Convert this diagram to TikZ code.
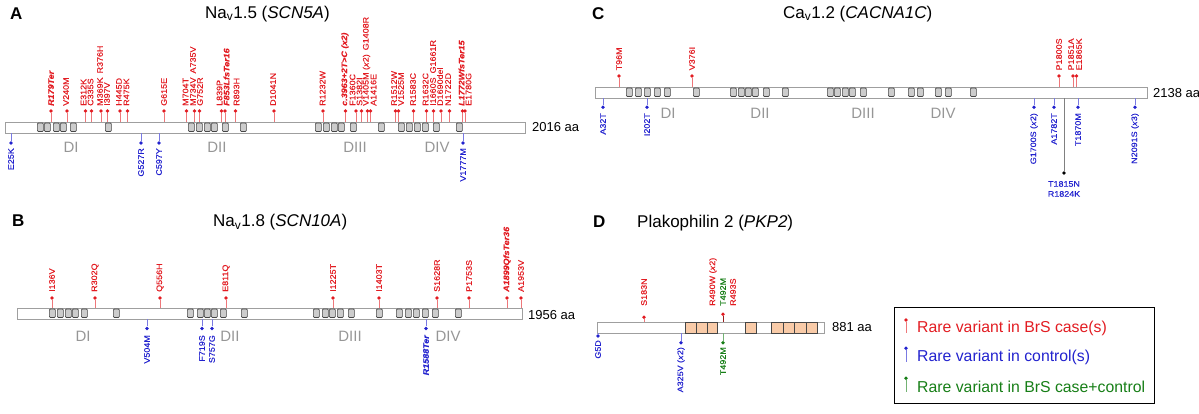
\documentclass[tikz,border=0pt]{standalone}
\usepackage{fontspec}
\setmainfont{Liberation Sans}
\newfontfamily\lblfam{Liberation Sans}[FakeStretch=1.12, FakeBold=0.3]
\usetikzlibrary{positioning}

\definecolor{varred}{RGB}{226,28,34}
\definecolor{varblue}{RGB}{34,34,206}
\definecolor{vargreen}{RGB}{22,126,22}
\definecolor{stemdark}{RGB}{150,30,30}
\definecolor{armorange}{RGB}{249,203,168}
\definecolor{domgray}{RGB}{150,150,150}

\newcommand{\lblfont}{\lblfam\fontsize{8}{10}\selectfont}
\newcommand{\fsvar}{\bfseries\itshape}

\tikzset{
  protbar/.style={draw=gray!75, fill=white, line width=0.6pt, inner sep=0pt,
    minimum height=10.5pt, anchor=north west},
  tmbox/.style={draw=gray!55!black, fill=gray!40, line width=0.7pt, rounded corners=1pt,
    inner sep=0pt, minimum width=6pt, minimum height=8.5pt, anchor=west},
  armbox/.style={draw=gray!55!black, fill=armorange, line width=0.6pt, inner sep=0pt,
    minimum height=10.5pt, anchor=north west},
  vdot/.style={circle, fill=#1, inner sep=0pt, minimum size=3.8pt},
  vstem/.style={draw=#1, line width=0.7pt},
  uplab/.style={rotate=90, anchor=west, inner sep=0pt, text=#1, font=\lblfont},
  downlab/.style={rotate=90, anchor=east, inner sep=0pt, text=#1, font=\lblfont},
  domlab/.style={text=domgray, font=\fontsize{15}{15}\selectfont, anchor=base, inner sep=0pt},
  lenlab/.style={font=\fontsize{13}{13}\selectfont, anchor=base west, inner sep=0pt},
  paneltitle/.style={font=\fontsize{17}{17}\selectfont, anchor=base west, inner sep=0pt},
  panelletter/.style={font=\fontsize{17}{17}\selectfont\bfseries, anchor=base west, inner sep=0pt},
  legtext/.style={font=\fontsize{15.8}{16}\selectfont, anchor=base west, inner sep=0pt, text=#1},
}

\begin{document}
\begin{tikzpicture}[x=1pt, y=-1pt]
    \useasboundingbox (0,0) rectangle (1199,413);

    % A: Nav1.5
    \node[panelletter] (letA) at (10,19) {A};
    \node[paneltitle] (titleA) at (205,18) {Na\textsubscript{v}1.5 (\textit{SCN5A})};
    \node[protbar, minimum width=520pt] (barA) at (5,122) {};
    \node[lenlab] (lenA) at (532,131.7) {2016 aa};
    \foreach \x in {37,44,53,60,70,105, 188,196,204,211,222,240, 315,323,331,338,350,378, 398,406,414,422,433,456}
        \node[tmbox] at (\x,127.25) {};
    \node[domlab] (dA1) at (71,152.5) {DI};
    \node[domlab] (dA2) at (217,152.5) {DII};
    \node[domlab] (dA3) at (355,152.5) {DIII};
    \node[domlab] (dA4) at (437,152.5) {DIV};
    % dot x / label x / label
    \foreach \d/\x/\vname [count=\i] in {51/51/{\fsvar R179Ter}, 67/66/V240M, 85.5/83.5/E312K, 91.5/90.5/C335S,
        101/100/{M369K\hspace{4pt}R376H}, 107.5/107/I397V, 120/119/H445D, 127.5/126.5/R475K, 164/164/G615E,
        186.5/185.5/M704T, 194.5/193/{M734V\hspace{4pt}A735V}, 199.5/200/G752R, 221.5/219.5/L839P,
        225/226.5/{\fsvar F853LfsTer16}, 235.5/236.5/R893H, 274/273/D1041N, 323/322.5/R1232W,
        345.5/345/{\fsvar c.3963+2T>C (\textit{x}2)}, 356/352.5/F1360C, 361.5/359.5/S1382I,
        367.5/366.5/{V1405M (\textit{x}2)\hspace{4pt}G1408R}, 370.5/373.5/A1416E, 395.5/394/R1512W,
        398.5/401/V1525M, 413.5/413/R1583C, 426.5/425.5/R1632C, 433.5/433/{I1660S\hspace{4pt}G1661R},
        441/440/D1690del, 449.5/448/N1722D, 462.5/461.5/{\fsvar L1772WfsTer15}, 465/468.5/E1780G}{
        \node[vdot=varred] (Ar\i) at (\d,111) {};
        \draw[vstem=varred!60] (Ar\i) -- (Ar\i |- barA.north);
        \node[uplab=varred] (ArL\i) at (\x,106) {\vname};
    }
    \foreach \x/\vname [count=\i] in {11/E25K, 141/G527R, 159/C597Y, 463/V1777M}{
        \node[vdot=varblue] (Ab\i) at (\x,143) {};
        \draw[vstem=varblue!60] (Ab\i) -- (Ab\i |- barA.south);
        \node[downlab=varblue] (AbL\i) at (\x,148) {\vname};
    }

    % B: Nav1.8
    \node[panelletter] (letB) at (12,226.5) {B};
    \node[paneltitle] (titleB) at (213,226.5) {Na\textsubscript{v}1.8 (\textit{SCN10A})};
    \node[protbar, minimum width=505pt] (barB) at (17,308) {};
    \node[lenlab] (lenB) at (528,319.3) {1956 aa};
    \foreach \x in {49,57,65,72,81,113, 187,197,204,211,220,241, 313,322,329,337,348,376, 396,405,413,422,432,455}
        \node[tmbox] at (\x,313.25) {};
    \node[domlab] (dB1) at (83,341.7) {DI};
    \node[domlab] (dB2) at (230,341.7) {DII};
    \node[domlab] (dB3) at (350,341.7) {DIII};
    \node[domlab] (dB4) at (448,341.7) {DIV};
    \foreach \x/\vname [count=\i] in {52/I136V, 95/R302Q, 160/Q556H, 226/E811Q, 333/I1225T,
        379/I1403T, 437/S1628R, 469/P1753S, 507/{\fsvar A1899QfsTer36}, 521/A1953V}{
        \node[vdot=varred] (Br\i) at (\x,298) {};
        \draw[vstem=varred!60] (Br\i) -- (Br\i |- barB.north);
        \node[uplab=varred] (BrL\i) at (\x,292) {\vname};
    }
    \foreach \x/\vname [count=\i] in {147/V504M, 202/F719S, 212/S757G, 426/{\fsvar R1588Ter}}{
        \node[vdot=varblue] (Bb\i) at (\x,328.5) {};
        \draw[vstem=varblue!60] (Bb\i) -- (Bb\i |- barB.south);
        \node[downlab=varblue] (BbL\i) at (\x,335) {\vname};
    }

    % C: Cav1.2
    \node[panelletter] (letC) at (592,19) {C};
    \node[paneltitle] (titleC) at (783,18) {Ca\textsubscript{v}1.2 (\textit{CACNA1C})};
    \node[protbar, minimum width=552pt] (barC) at (595,87) {};
    \node[lenlab] (lenC) at (1153,97.3) {2138 aa};
    \foreach \x in {626,635,644,654,664,693, 730,738,745,752,763,782, 827,834,842,849,860,888, 908,917,935,945,970}
        \node[tmbox] at (\x,92.25) {};
    \node[domlab] (dC1) at (668,118.3) {DI};
    \node[domlab] (dC2) at (760,118.3) {DII};
    \node[domlab] (dC3) at (863,118.3) {DIII};
    \node[domlab] (dC4) at (943,118.3) {DIV};
    \foreach \d/\x/\vname [count=\i] in {619/619/T96M, 692/692/V376I, 1059/1059/P1800S, 1073/1071/P1851A, 1076.5/1079/E1865K}{
        \node[vdot=varred] (Cr\i) at (\d,76) {};
        \draw[vstem=varred!60] (Cr\i) -- (Cr\i |- barC.north);
        \node[uplab=varred] (CrL\i) at (\x,70.5) {\vname};
    }
    \foreach \x/\vname [count=\i] in {603/A32T, 647/I202T, 1034/{G1700S (\textit{x}2)}, 1054/A1782T,
        1078/T1870M, 1135/{N2091S (\textit{x}3)}}{
        \node[vdot=varblue] (Cb\i) at (\x,107.3) {};
        \draw[vstem=varblue!60] (Cb\i) -- (Cb\i |- barC.south);
        \node[downlab=varblue] (CbL\i) at (\x,113) {\vname};
    }
    \node[vdot=black] (Cpair) at (1064,173) {};
    \draw[vstem=gray] (Cpair) -- (Cpair |- barC.south);
    \node[font=\lblfont, text=varblue, anchor=base, inner sep=0pt] (t1815) at (1064,186.7) {T1815N};
    \node[font=\lblfont, text=varblue, anchor=base, inner sep=0pt] (r1824) at (1064,196.7) {R1824K};

    % D: PKP2
    \node[panelletter] (letD) at (593,227) {D};
    \node[paneltitle] (titleD) at (637,227) {Plakophilin 2 (\textit{PKP2})};
    \node[protbar, minimum width=227pt] (barD) at (597,322) {};
    \node[lenlab] (lenD) at (832,331.7) {881 aa};
    \foreach \x/\w in {685/10.8, 695.8/10.8, 706.6/10.8, 745/11, 771/11.5, 782.5/11.5, 794/11.5, 805.5/11.5}
        \node[armbox, minimum width=\w pt] at (\x,322) {};
    \node[vdot=varred] (Dr1) at (644,317.3) {};
    \draw[vstem=varred!60] (Dr1) -- (Dr1 |- barD.north);
    \node[uplab=varred] (DrL1) at (644,306) {S183N};
    \node[vdot=varred] (Dr2) at (723,314.3) {};
    \draw[vstem=stemdark] (Dr2) -- (Dr2 |- barD.north);
    \node[uplab=varred] (DrL2) at (713,306) {R490W (\textit{x}2)};
    \node[uplab=vargreen] (DrL3) at (723,306) {T492M};
    \node[uplab=varred] (DrL4) at (733,306) {R493S};
    \node[vdot=varblue] (Db1) at (598,336) {};
    \draw[vstem=varblue!60] (Db1) -- (Db1 |- barD.south);
    \node[downlab=varblue] (DbL1) at (598,340) {G5D};
    \node[vdot=varblue] (Db2) at (681,342.7) {};
    \draw[vstem=varblue!60] (Db2) -- (Db2 |- barD.south);
    \node[downlab=varblue] (DbL2) at (681,347) {A325V (\textit{x}2)};
    \node[vdot=vargreen] (Dg1) at (723,342.7) {};
    \draw[vstem=vargreen!60] (Dg1) -- (Dg1 |- barD.south);
    \node[downlab=vargreen] (DgL1) at (723,347) {T492M};

    % legend
    \node[draw, line width=1pt, inner sep=0pt, minimum width=260pt, minimum height=96pt, anchor=north west] (legend) at (894,307) {};
    \node[vdot=varred] (legr) at (906,320) {};
    \coordinate (legr0) at (906,332.7);
    \draw[vstem=varred!60] (legr) -- (legr0);
    \node[legtext=varred] (legrt) at (917,332.3) {Rare variant in BrS case(s)};
    \node[vdot=varblue] (legb) at (906,348.3) {};
    \coordinate (legb0) at (906,361.7);
    \draw[vstem=varblue!60] (legb) -- (legb0);
    \node[legtext=varblue] (legbt) at (917,361.3) {Rare variant in control(s)};
    \node[vdot=vargreen] (legg) at (906,378.3) {};
    \coordinate (legg0) at (906,391.7);
    \draw[vstem=vargreen!60] (legg) -- (legg0);
    \node[legtext=vargreen] (leggt) at (917,392.3) {Rare variant in BrS case+control};
\end{tikzpicture}
\end{document}
